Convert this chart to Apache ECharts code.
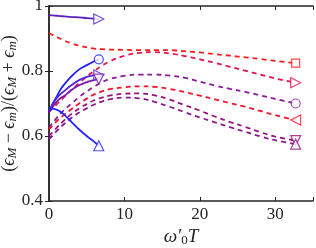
<!DOCTYPE html>
<html><head><meta charset="utf-8">
<script src="https://cdn.jsdelivr.net/npm/echarts@6/dist/echarts.min.js"></script>
<style>html,body{margin:0;padding:0;background:#fff}#c{width:316px;height:248px}</style>
</head><body><div id="c"></div>
<script>
// x positions
var xDashed = [0,1,2,3,4,5,6,7,8,10,12,14,16,18,20,22,24,26,28,30,32.7];
var xSolid = [0,0.5,1,1.5,2,3,4,5,6,6.6];
// dashed series
var dRedSquare = [0.917,0.905,0.894,0.885,0.878,0.873,0.869,0.867,0.866,0.865,0.864,0.864,0.864,0.861,0.857,0.852,0.847,0.842,0.837,0.831,0.824];
var dCrimsonRight = [0.674,0.697,0.72,0.742,0.763,0.783,0.80,0.816,0.829,0.847,0.856,0.858,0.854,0.846,0.836,0.825,0.813,0.801,0.789,0.777,0.764];
var dPurpleCircle = [0.625,0.655,0.68,0.70,0.72,0.737,0.752,0.765,0.775,0.785,0.789,0.789,0.786,0.779,0.767,0.755,0.745,0.736,0.725,0.714,0.70];
var dRedLeft = [0.62,0.645,0.665,0.683,0.70,0.715,0.728,0.737,0.744,0.75,0.753,0.751,0.745,0.735,0.724,0.713,0.701,0.69,0.677,0.664,0.649];
var dPurpleDown = [0.60,0.625,0.648,0.668,0.685,0.698,0.71,0.718,0.724,0.73,0.731,0.725,0.712,0.695,0.678,0.66,0.643,0.628,0.612,0.598,0.586];
var dPurpleUp = [0.59,0.615,0.637,0.656,0.672,0.685,0.697,0.706,0.713,0.718,0.716,0.705,0.69,0.673,0.657,0.642,0.627,0.613,0.599,0.587,0.575];
// solid series
var sVioletTop = [0.972,0.971,0.970,0.969,0.968,0.966,0.965,0.963,0.961,0.960];
var sBlueCircle = [0.675,0.70,0.72,0.742,0.758,0.784,0.805,0.818,0.83,0.836];
var sVioletRight = [0.674,0.698,0.716,0.728,0.738,0.757,0.772,0.782,0.787,0.788];
var sPurpleDown = [0.672,0.69,0.705,0.716,0.723,0.742,0.756,0.766,0.772,0.775];
var sBlueUp = [0.68,0.684,0.681,0.675,0.666,0.643,0.62,0.6,0.582,0.57];
// ticks
var xTicks = [0,10,20,30];
var yTicks = [0.4,0.6,0.8,1];

var FONT = 'Liberation Serif';
var TXT = '#262626';
var specs = [
  {x:xDashed,y:dRedSquare,c:'#ff1a1a',dash:true,sym:'rect',rot:0},
  {x:xDashed,y:dCrimsonRight,c:'#e8104e',dash:true,sym:'triangle',rot:-90},
  {x:xDashed,y:dPurpleCircle,c:'#8a1a9a',dash:true,sym:'circle',rot:0},
  {x:xDashed,y:dRedLeft,c:'#f5142e',dash:true,sym:'triangle',rot:90},
  {x:xDashed,y:dPurpleDown,c:'#9a1080',dash:true,sym:'triangle',rot:180},
  {x:xDashed,y:dPurpleUp,c:'#8c1a8c',dash:true,sym:'triangle',rot:0},
  {x:xSolid,y:sVioletTop,c:'#5a1ec8',dash:false,sym:'triangle',rot:-90},
  {x:xSolid,y:sBlueCircle,c:'#1e1eff',dash:false,sym:'circle',rot:0},
  {x:xSolid,y:sVioletRight,c:'#5522d8',dash:false,sym:'triangle',rot:-90},
  {x:xSolid,y:sPurpleDown,c:'#7a1ca8',dash:false,sym:'triangle',rot:180},
  {x:xSolid,y:sBlueUp,c:'#2626ff',dash:false,sym:'triangle',rot:0}
];
var series = [];
specs.forEach(function(s){
  var d = s.x.map(function(v,i){return [v,s.y[i]];});
  series.push({type:'line',data:d,showSymbol:false,smooth:0.4,silent:true,
    lineStyle:{color:s.c,width:1.8,type:s.dash?[5,4]:'solid'},z:2});
  var last = d[d.length-1];
  series.push({type:'scatter',data:[last],symbol:s.sym,symbolRotate:s.rot,
    symbolSize:s.sym==='rect'?8:(s.sym==='circle'?9:10),silent:true,
    itemStyle:{color:'#fff',borderColor:s.c,borderWidth:1.2},z:3});
});
var axisCommon = {axisLine:{show:true,lineStyle:{color:TXT,width:1.5}},
  splitLine:{show:false}};
var chart = echarts.init(document.getElementById('c'));
chart.setOption({
  animation:false,
  grid:{left:49,right:3,top:6,bottom:47,containLabel:false,outerBoundsMode:'none'},
  xAxis:[
    Object.assign({type:'value',min:0,max:35,interval:10,position:'bottom',
      axisTick:{inside:true,length:4,lineStyle:{color:TXT}},
      axisLabel:{color:TXT,fontFamily:FONT,fontSize:17,margin:5,
        formatter:function(v){return xTicks.indexOf(v)>=0?String(v):'';}},
      name:'{i|ω′}{s|0}{i|T}',nameLocation:'middle',nameGap:26,nameMoveOverlap:false,
      nameTextStyle:{rich:{i:{fontFamily:FONT,fontStyle:'italic',fontSize:19,color:TXT,lineHeight:20},
        s:{fontFamily:FONT,fontSize:13,color:TXT,verticalAlign:'bottom',lineHeight:20,padding:[6,0,0,0]}}}
    },axisCommon),
    Object.assign({type:'value',min:0,max:35,interval:10,position:'top',
      axisTick:{inside:true,length:4,lineStyle:{color:TXT}},axisLabel:{show:false}},axisCommon)
  ],
  yAxis:[
    Object.assign({type:'value',min:0.4,max:1,interval:0.2,position:'left',
      axisTick:{inside:true,length:4,lineStyle:{color:TXT}},
      axisLabel:{color:TXT,fontFamily:FONT,fontSize:17,margin:6,
        formatter:function(v){var r=Math.round(v*10)/10;return yTicks.indexOf(r)>=0?String(r):'';}},
      name:'({i|ϵ}{s|M}{n| − }{i|ϵ}{s|m}{n|)/(}{i|ϵ}{s|M}{n| + }{i|ϵ}{s|m}{n|)}',
      nameLocation:'middle',nameGap:30,nameRotate:90,nameMoveOverlap:false,
      nameTextStyle:{fontFamily:FONT,fontSize:18,color:TXT,rich:{
        i:{fontFamily:FONT,fontStyle:'italic',fontSize:18,color:TXT,lineHeight:19},
        n:{fontFamily:FONT,fontSize:18,color:TXT,lineHeight:19},
        s:{fontFamily:FONT,fontStyle:'italic',fontSize:13,color:TXT,verticalAlign:'bottom',lineHeight:19,padding:[5,0,0,0]}}}
    },axisCommon),
    Object.assign({type:'value',min:0.4,max:1,interval:0.2,position:'right',
      axisTick:{inside:true,length:4,lineStyle:{color:TXT}},axisLabel:{show:false}},axisCommon)
  ],
  series:series
});
</script></body></html>
